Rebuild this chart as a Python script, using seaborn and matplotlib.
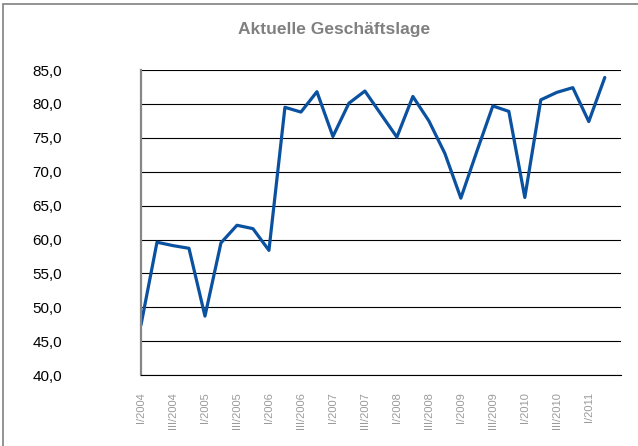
"""
Aktuelle Geschäftslage – Quartalswerte 2004 bis 2011
"""
import matplotlib
matplotlib.use('Agg')
import matplotlib.pyplot as plt
import matplotlib.patches as mpatches
import seaborn as sns
import pandas as pd

sns.set_style("white")
plt.rcParams['font.family'] = ['Liberation Sans', 'DejaVu Sans']

# Daten (Quartale I/2004 bis II/2011)
quartale = [f"{q}/{j}" for j in range(2004, 2012) for q in ["I", "II", "III", "IV"]][:30]
werte = [47.4, 59.6, 59.1, 58.7, 48.7, 59.5, 62.1, 61.6, 58.4, 79.5,
         78.8, 81.8, 75.2, 80.1, 81.9, 78.5, 75.1, 81.1, 77.5, 72.7,
         66.1, 73.0, 79.7, 78.9, 66.2, 80.6, 81.7, 82.4, 77.4, 83.9]
y_ticks = [40, 45, 50, 55, 60, 65, 70, 75, 80, 85]

df = pd.DataFrame({'idx': range(len(werte)), 'Quartal': quartale, 'Wert': werte})

fig = plt.figure(figsize=(6.38, 4.46), dpi=100)
ax = fig.add_axes([0.221, 0.159, 0.752, 0.684])

sns.lineplot(data=df, x='idx', y='Wert', ax=ax, color='#0A51A0', linewidth=2.3)

ax.set_xlim(0, 30)
ax.set_ylim(40, 85)
ax.set_yticks(y_ticks)
ax.set_yticklabels([f"{v:.1f}".replace('.', ',') for v in y_ticks], fontsize=11, color='black')
ax.set_xticks(df['idx'][::2])
ax.set_xticklabels(df['Quartal'][::2], rotation=90, fontsize=8, color='#9A9A9A', va='top')
ax.tick_params(axis='x', length=0, pad=12)
ax.tick_params(axis='y', length=4, width=0.8, color='black', pad=53)
for lab in ax.get_yticklabels():
    lab.set_horizontalalignment('right')

ax.grid(axis='y', color='black', linewidth=0.8)
ax.set_axisbelow(True)
ax.set_xlabel('')
ax.set_ylabel('')
for s in ['top', 'right']:
    ax.spines[s].set_visible(False)
ax.spines['bottom'].set_color('black')
ax.spines['bottom'].set_linewidth(0.8)
ax.spines['left'].set_color('#868686')
ax.spines['left'].set_linewidth(1.6)

fig.text(0.523, 0.933, 'Aktuelle Geschäftslage', ha='center', va='center',
         fontsize=12.5, fontweight='bold', color='#808080')

# Rahmen um das Diagramm
fig.patches.append(mpatches.Rectangle((3 / 638, -0.05), 1.2, 1 - 4 / 446 + 0.05,
                                      transform=fig.transFigure, fill=False,
                                      edgecolor='#808080', linewidth=1.2))

plt.savefig('out.png', dpi=100)
plt.close()
